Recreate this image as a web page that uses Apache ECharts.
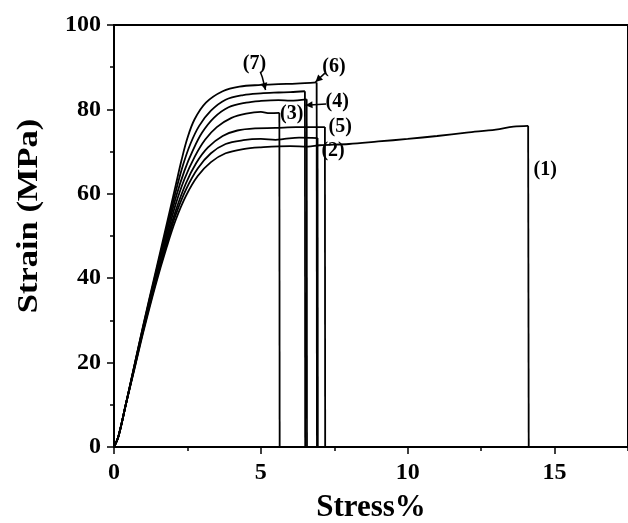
<!DOCTYPE html>
<html><head><meta charset="utf-8">
<script src="https://cdn.jsdelivr.net/npm/echarts@6/dist/echarts.min.js"></script>
<style>html,body{margin:0;padding:0;background:#fff}#c{width:628px;height:523px}</style>
</head><body><div id="c"></div>
<script>
// ---- data (strain %, stress MPa) ----
const xTickValues = [0, 5, 10, 15];
const yTickValues = [0, 20, 40, 60, 80, 100];
const curve1 = [[0,0],[0.15,2.5],[0.4,10],[0.7,18.6],[1.0,27.3],[1.4,38],[1.8,47.5],[2.1,53.8],[2.45,59.5],[2.85,64.2],[3.3,67.5],[3.8,69.6],[4.4,70.6],[5.0,71],[6.0,71.3],[6.6,71.2],[7.0,71.5],[8.0,71.8],[9.0,72.4],[10.0,73.0],[11.0,73.7],[12.0,74.5],[13.0,75.2],[13.6,75.9],[14.1,76.1],[14.12,0]];
const curve2 = [[0,0],[0.15,2.5],[0.4,10],[0.7,18.8],[1.0,27.7],[1.4,38.5],[1.8,48.3],[2.1,55],[2.45,61],[2.85,66],[3.3,69.6],[3.8,71.8],[4.4,72.7],[5.0,73],[5.5,72.8],[5.8,73],[6.3,73.3],[6.93,73.2],[6.94,0]];
const curve3 = [[0,0],[0.15,2.5],[0.4,10],[0.7,19.2],[1.0,28.2],[1.4,39.5],[1.8,50],[2.1,57.5],[2.4,63.5],[2.75,68.8],[3.1,72.8],[3.5,75.8],[4.0,78],[4.5,79],[5.0,79.4],[5.3,79.1],[5.63,79.2],[5.64,0]];
const curve4 = [[0,0],[0.15,2.5],[0.4,10],[0.7,19.3],[1.0,28.5],[1.4,40],[1.8,51],[2.1,59],[2.4,65.5],[2.7,70.5],[3.0,74.5],[3.4,78],[3.9,80.5],[4.5,81.6],[5.0,82],[5.6,82.2],[6.0,82.1],[6.56,82.4],[6.57,0]];
const curve5 = [[0,0],[0.15,2.5],[0.4,10],[0.7,19],[1.0,28],[1.4,39],[1.8,49.2],[2.1,56],[2.45,62.5],[2.8,67.3],[3.2,71],[3.7,73.7],[4.2,75],[4.8,75.5],[5.5,75.6],[6.2,75.8],[7.18,75.8],[7.19,0]];
const curve6 = [[0,0],[0.15,2.5],[0.4,10],[0.7,19.5],[1.0,29],[1.4,41],[1.8,53],[2.1,62],[2.3,68],[2.5,73.2],[2.74,77.6],[3.13,81.6],[3.7,84.3],[4.27,85.4],[5.0,85.8],[5.6,86.0],[6.2,86.1],[6.9,86.4],[6.91,0]];
const curve7 = [[0,0],[0.15,2.5],[0.4,10],[0.7,19.5],[1.0,28.8],[1.4,40.5],[1.8,52],[2.1,60.5],[2.35,66.8],[2.6,71.8],[2.9,76.1],[3.3,79.7],[3.8,82.3],[4.4,83.4],[5.0,83.8],[5.6,84.0],[6.0,84.1],[6.5,84.3],[6.51,0]];
const curves = [curve1, curve2, curve3, curve4, curve5, curve6, curve7];
const curveNames = ['(1)','(2)','(3)','(4)','(5)','(6)','(7)'];
// label anchors in data coordinates
const labelTexts = ['(1)','(2)','(3)','(4)','(5)','(6)','(7)'];
const labelX = [14.68, 7.46, 6.05, 7.6, 7.7, 7.49, 4.78];
const labelY = [65.6, 70.1, 79.0, 81.8, 75.8, 90.2, 90.8];
// arrows (data coords): polyline ending at tip
const arrows = [
  [[4.98,88.9],[5.05,87.6],[5.16,84.6]],
  [[7.18,88.6],[6.86,86.5]],
  [[7.22,81.3],[6.52,81.0]]
];
// ---------------------------------------
const FONT = 'Liberation Serif';
const chart = echarts.init(document.getElementById('c'), null, {renderer:'canvas'});
const axisLineStyle = {color:'#000', width:2};
const lineStyle = {color:'#000', width:1.8};
const series = [];
curves.forEach((c,i)=>{
  series.push({type:'line', name:curveNames[i], xAxisIndex:0, data:c.slice(0,-1), symbol:'none', smooth:0.35,
     lineStyle:lineStyle, z:3});
  series.push({type:'line', name:curveNames[i]+' break', xAxisIndex:0, data:c.slice(-2), symbol:'none', smooth:false,
     lineStyle:lineStyle, z:3});
});
const option = {
  animation:false,
  backgroundColor:'#fff',
  grid:{left:114, right:-2, top:25, bottom:76, show:true, borderColor:'#000', borderWidth:2, backgroundColor:'transparent'},
  xAxis:[
    {type:'value', position:'bottom', min:0, max:17.5, interval:2.5,
     axisLine:{show:true, onZero:false, lineStyle:axisLineStyle},
     axisTick:{show:true, length:4, lineStyle:{color:'#000', width:1.5}},
     axisLabel:{show:false}, splitLine:{show:false}},
    {type:'value', position:'bottom', min:0, max:17.5, interval:5,
     axisLine:{show:false, onZero:false},
     axisTick:{show:true, length:7, lineStyle:{color:'#000', width:1.5}},
     axisLabel:{show:true, showMaxLabel:false, margin:14, color:'#000', fontFamily:FONT, fontWeight:'bold', fontSize:24,
       formatter:v=> xTickValues.indexOf(v)>=0 ? String(v) : ''},
     splitLine:{show:false}}
  ],
  yAxis:{type:'value', min:0, max:100, interval:20,
    axisLine:{show:true, onZero:false, lineStyle:axisLineStyle},
    axisTick:{show:true, length:7, lineStyle:{color:'#000', width:1.5}},
    minorTick:{show:true, splitNumber:2, length:4, lineStyle:{color:'#000', width:1.5}},
    axisLabel:{margin:13, color:'#000', fontFamily:FONT, fontWeight:'bold', fontSize:24,
      formatter:v=> yTickValues.indexOf(v)>=0 ? String(v) : ''},
    splitLine:{show:false}, minorSplitLine:{show:false}},
  series: series
};
chart.setOption(option);

function px(p){ return chart.convertToPixel({xAxisIndex:0, yAxisIndex:0}, p); }
const g = [];
labelTexts.forEach((t,i)=>{
  const p = px([labelX[i], labelY[i]]);
  g.push({type:'text', x:p[0], y:p[1], z:10, style:{text:t, fill:'#000', font:'bold 20px "'+FONT+'"', textAlign:'center', textVerticalAlign:'middle'}});
});
arrows.forEach(a=>{
  const pts = a.map(px);
  g.push({type:'polyline', z:10, shape:{points:pts}, style:{stroke:'#000', lineWidth:1.5, fill:null}});
  const tip = pts[pts.length-1], prev = pts[pts.length-2];
  const dx = tip[0]-prev[0], dy = tip[1]-prev[1], L = Math.hypot(dx,dy);
  const ux = dx/L, uy = dy/L, len = 7, w = 3.5;
  const bx = tip[0]-ux*len, by = tip[1]-uy*len;
  g.push({type:'polygon', z:10, shape:{points:[tip,[bx-uy*w, by+ux*w],[bx+uy*w, by-ux*w]]}, style:{fill:'#000'}});
});
g.push({type:'text', x:371, y:508, z:10, style:{text:'Stress%', fill:'#000', font:'bold 31px "'+FONT+'"', textAlign:'center', textVerticalAlign:'middle'}});
g.push({type:'text', x:29, y:216, rotation:Math.PI/2, scaleX:1.15, z:10, style:{text:'Strain (MPa)', fill:'#000', font:'bold 30px "'+FONT+'"', textAlign:'center', textVerticalAlign:'middle'}});
chart.setOption({graphic:g});
</script></body></html>
